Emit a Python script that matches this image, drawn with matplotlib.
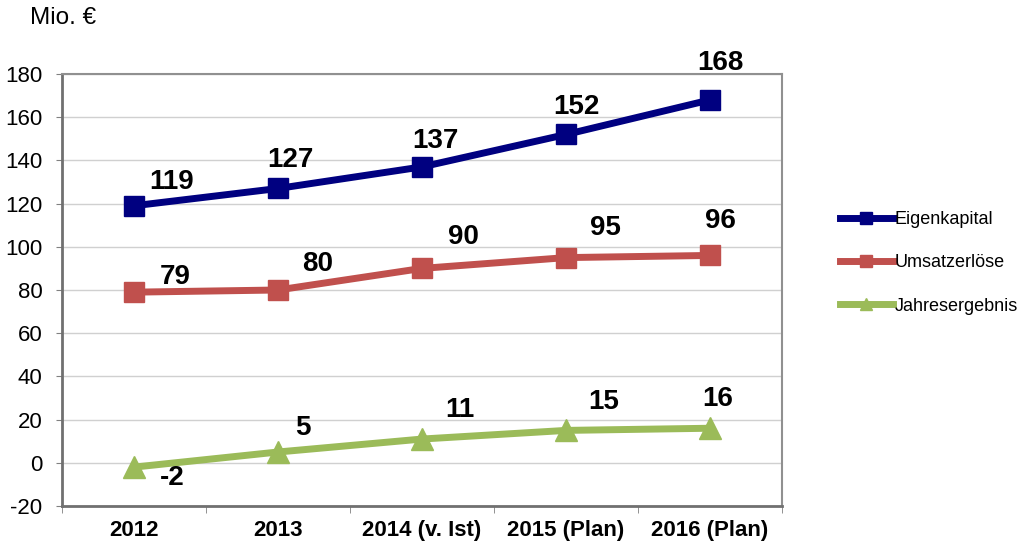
import matplotlib.pyplot as plt

plt.rcParams['font.family'] = ['Liberation Sans', 'DejaVu Sans']
plt.rcParams['axes.unicode_minus'] = False

# Data
categories = ['2012', '2013', '2014 (v. Ist)', '2015 (Plan)', '2016 (Plan)']
eigenkapital = [119, 127, 137, 152, 168]
umsatzerloese = [79, 80, 90, 95, 96]
jahresergebnis = [-2, 5, 11, 15, 16]

# label offsets in pixels (dx, dy) relative to each point
ek_offsets = [(38, 24), (12, 28), (13, 26), (10, 27), (10, 37)]
ue_offsets = [(41, 15), (40, 26), (41, 31), (39, 30), (10, 34)]
je_offsets = [(38, -11), (25, 24), (38, 29), (38, 28), (8, 29)]


def draw_series(ax, x, values, color, marker, msize, label, offsets):
    ax.plot(x, values, color=color, linewidth=5, marker=marker,
            markersize=msize, label=label, zorder=3)
    for xi, v, (dx, dy) in zip(x, values, offsets):
        ax.annotate(str(v), (xi, v), xytext=(dx, dy), textcoords='offset pixels',
                    ha='center', va='center', fontsize=20, fontweight='bold',
                    color='black', zorder=4)


def main():
    fig = plt.figure(figsize=(10.28, 5.47), dpi=100)
    ax = fig.add_axes([62 / 1028, 1 - 506 / 547, 720 / 1028, 432 / 547])
    x = list(range(len(categories)))

    draw_series(ax, x, eigenkapital, '#000080', 's', 14.5, 'Eigenkapital', ek_offsets)
    draw_series(ax, x, umsatzerloese, '#C0504D', 's', 14.5, 'Umsatzerlöse', ue_offsets)
    draw_series(ax, x, jahresergebnis, '#9BBB59', '^', 16, 'Jahresergebnis', je_offsets)

    ax.set_xlim(-0.5, len(categories) - 0.5)
    ax.set_ylim(-20, 180)
    ax.set_yticks(range(-20, 181, 20))
    ax.yaxis.grid(True, color='#d0d0d0', linewidth=1)
    ax.set_axisbelow(True)

    ax.set_xticks(x)
    ax.set_xticklabels(categories, fontsize=16, fontweight='bold')
    ax.set_xticks([i - 0.5 for i in range(len(categories) + 1)], minor=True)
    ax.tick_params(axis='x', which='major', length=0, pad=10)
    ax.tick_params(axis='x', which='minor', length=5, color='#808080', direction='out')
    ax.tick_params(axis='y', length=4, color='#808080', labelsize=16, pad=10)

    for side in ['top', 'right']:
        ax.spines[side].set_color('#909090')
        ax.spines[side].set_linewidth(1.5)
    for side in ['left', 'bottom']:
        ax.spines[side].set_color('#707070')
        ax.spines[side].set_linewidth(2)

    fig.text(30 / 1028, 1 - 18 / 547, 'Mio. €', fontsize=17.5, va='center', ha='left')

    handles, labels = ax.get_legend_handles_labels()
    fig.legend(handles, labels, loc='center left',
               bbox_to_anchor=(824 / 1028, 1 - 263 / 547), frameon=False,
               fontsize=13, handlelength=2.9, handletextpad=0.1,
               labelspacing=1.45, markerscale=0.55)

    fig.savefig('out.png', dpi=100)


if __name__ == '__main__':
    main()
